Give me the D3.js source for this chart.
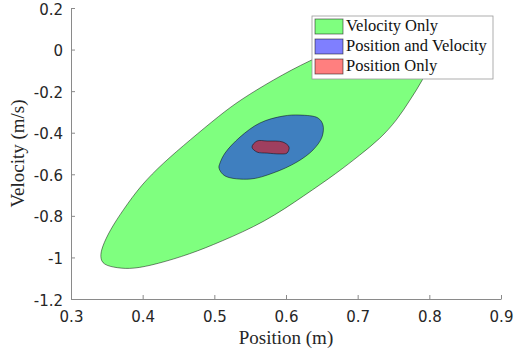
<!DOCTYPE html>
<html>
<head>
<meta charset="utf-8">
<script src="https://cdn.jsdelivr.net/npm/d3@7"></script>
<style>
  html, body { margin: 0; padding: 0; background: #fff; }
  svg { display: block; }
  .tick text { font-family: "DejaVu Sans", sans-serif; font-size: 15px; fill: #262626; }
</style>
</head>
<body>
<svg id="chart" width="514" height="356"></svg>
<script>
// region outlines, [position (m), velocity (m/s)]
const velocityOnly = [
  [0.3405, -0.998], [0.3447, -1.036], [0.3642, -1.051], [0.3865, -1.056],
  [0.4200, -1.032], [0.4660, -0.984], [0.5079, -0.926], [0.5707, -0.830],
  [0.6265, -0.700], [0.6711, -0.594], [0.7032, -0.507], [0.7311, -0.430],
  [0.7549, -0.339], [0.7730, -0.243], [0.7911, -0.146], [0.8051, -0.041],
  [0.8121, 0.056], [0.8037, 0.113], [0.7800, 0.123], [0.7311, 0.075],
  [0.6823, 0.017], [0.6335, -0.050], [0.5818, -0.146], [0.5358, -0.243],
  [0.5079, -0.315], [0.4660, -0.435], [0.4284, -0.546], [0.3977, -0.652],
  [0.3726, -0.772], [0.3544, -0.868], [0.3433, -0.950]
];
const positionAndVelocity = [
  [0.5065, -0.570], [0.5149, -0.608], [0.5498, -0.623], [0.5818, -0.594],
  [0.6153, -0.541], [0.6377, -0.483], [0.6502, -0.421], [0.6516, -0.363],
  [0.6446, -0.329], [0.6195, -0.315], [0.5958, -0.320], [0.5637, -0.353],
  [0.5358, -0.421], [0.5149, -0.498], [0.5079, -0.546]
];
const positionOnly = [
  [0.5525, -0.469], [0.5595, -0.440], [0.5735, -0.440], [0.5958, -0.445],
  [0.6042, -0.469], [0.6014, -0.498], [0.5916, -0.502], [0.5735, -0.498],
  [0.5595, -0.493]
];
const xTicks = [0.3, 0.4, 0.5, 0.6, 0.7, 0.8, 0.9];
const yTicks = [0.2, 0, -0.2, -0.4, -0.6, -0.8, -1, -1.2];
const legendLabels = ["Velocity Only", "Position and Velocity", "Position Only"];
const legendColors = ["#00ff00", "#0000ff", "#ff0000"];

const margin = { top: 8, right: 13, bottom: 57, left: 71 };
const width = 514, height = 356;
const chartWidth = width - margin.left - margin.right;
const chartHeight = height - margin.top - margin.bottom;

const svg = d3.select("#chart");
const chart = svg.append("g")
  .attr("transform", `translate(${margin.left},${margin.top})`);

const x = d3.scaleLinear().domain([0.3, 0.9]).range([0, chartWidth]);
const y = d3.scaleLinear().domain([-1.2, 0.2]).range([chartHeight, 0]);

// the big contour is smoothed as a B-spline, the small ones pass through their points
const smoothLine = d3.line()
  .x((d) => x(d[0]))
  .y((d) => y(d[1]))
  .curve(d3.curveBasisClosed);
const line = d3.line()
  .x((d) => x(d[0]))
  .y((d) => y(d[1]))
  .curve(d3.curveCatmullRomClosed.alpha(0.5));

const regions = [velocityOnly, positionAndVelocity, positionOnly];
regions.forEach((pts, i) => {
  chart.append("path")
    .attr("d", i === 0 ? smoothLine(pts) : line(pts))
    .attr("fill", legendColors[i])
    .attr("fill-opacity", 0.5)
    .attr("stroke", "#000")
    .attr("stroke-opacity", 0.6)
    .attr("stroke-width", 0.8);
});

// MATLAB-style labels: plain hyphen for negatives
const fmt = (d) => String(d);

const xAxisG = chart.append("g")
  .attr("transform", `translate(0,${chartHeight})`)
  .call(d3.axisBottom(x).tickValues(xTicks).tickSizeInner(-4).tickSizeOuter(0)
    .tickPadding(12).tickFormat(fmt));
const yAxisG = chart.append("g")
  .call(d3.axisLeft(y).tickValues(yTicks).tickSizeInner(-4).tickSizeOuter(0)
    .tickPadding(8).tickFormat(fmt));
[xAxisG, yAxisG].forEach((g) => {
  g.select(".domain").attr("stroke", "#8a8a8a");
  g.selectAll(".tick line").attr("stroke", "#8a8a8a");
});
yAxisG.selectAll(".tick text").attr("dy", "0.4em");

svg.append("text")
  .attr("x", margin.left + chartWidth / 2)
  .attr("y", 344)
  .attr("text-anchor", "middle")
  .attr("font-family", "Liberation Serif, serif")
  .attr("font-size", 19)
  .attr("fill", "#262626")
  .text("Position (m)");

svg.append("text")
  .attr("transform", `translate(24,${margin.top + chartHeight / 2}) rotate(-90)`)
  .attr("text-anchor", "middle")
  .attr("font-family", "Liberation Serif, serif")
  .attr("font-size", 19)
  .attr("fill", "#262626")
  .text("Velocity (m/s)");

// legend
const legend = svg.append("g").attr("transform", "translate(312,16)");
legend.append("rect")
  .attr("width", 181).attr("height", 63)
  .attr("fill", "#fff").attr("stroke", "#999").attr("stroke-width", 0.8);
legendLabels.forEach((label, i) => {
  const row = legend.append("g").attr("transform", `translate(3,${3 + i * 20})`);
  row.append("rect")
    .attr("width", 28).attr("height", 15)
    .attr("fill", legendColors[i]).attr("fill-opacity", 0.5)
    .attr("stroke", "#000").attr("stroke-opacity", 0.6).attr("stroke-width", 0.8);
  row.append("text")
    .attr("x", 31).attr("y", 12)
    .attr("font-family", "Liberation Serif, serif")
    .attr("font-size", 16.5)
    .attr("fill", "#111")
    .text(label);
});
</script>
</body>
</html>
